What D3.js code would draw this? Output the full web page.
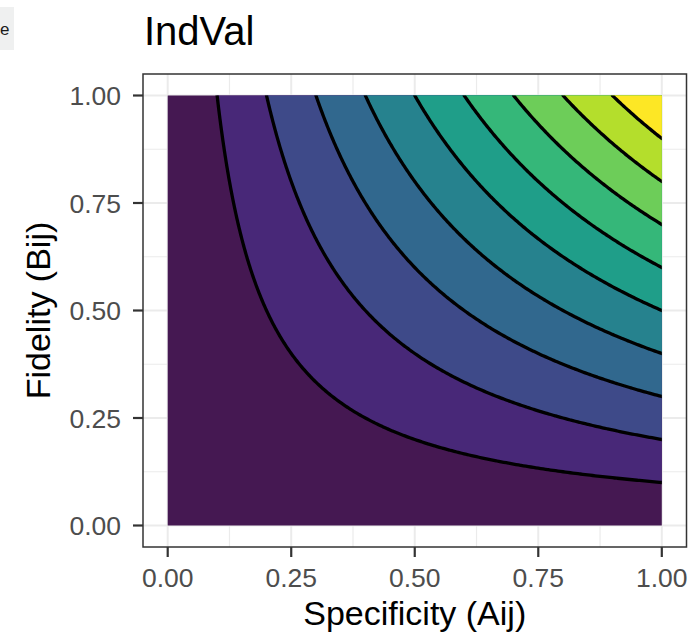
<!DOCTYPE html>
<html><head><meta charset="utf-8">
<script src="https://cdn.jsdelivr.net/npm/d3@7"></script>
<style>body{margin:0;background:#fff}svg{display:block}</style>
</head><body>
<svg id="c" width="692" height="639"></svg>
<script>
const title = "IndVal";
const xLabel = "Specificity (Aij)";
const yLabel = "Fidelity (Bij)";
const stripText = "e";
const bandBreaks = [0, 0.1, 0.2, 0.3, 0.4, 0.5, 0.6, 0.7, 0.8, 0.9];
const lineLevels = [0.1, 0.2, 0.3, 0.4, 0.5, 0.6, 0.7, 0.8, 0.9];
const bandColors = ["#451852","#482878","#3E4A89","#31688E","#26828E","#1F9E89","#35B779","#6DCD59","#B4DE2C","#FDE725"];
const xTicks = [0, 0.25, 0.5, 0.75, 1];
const yTicks = [0, 0.25, 0.5, 0.75, 1];
const minorTicks = [0.125, 0.375, 0.625, 0.875];
// grid of sampled specificity / fidelity values; IndVal = A * B
const specificity = d3.range(0, 201).map(i => i / 200);
const fidelity = d3.range(0, 201).map(i => i / 200);

const svg = d3.select("#c");
const P = {l: 143, r: 686.5, t: 74, b: 547};
const padX = (P.r - P.l) * 0.05 / 1.1, padY = (P.b - P.t) * 0.05 / 1.1;
const x = d3.scaleLinear().domain([0, 1]).range([P.l + padX, P.r - padX]);
const y = d3.scaleLinear().domain([0, 1]).range([P.b - padY, P.t + padY]);

// panel background + grid
svg.append("rect").attr("x", P.l).attr("y", P.t).attr("width", P.r - P.l).attr("height", P.b - P.t).attr("fill", "#fff");
const g = svg.append("g");
minorTicks.forEach(v => {
  g.append("line").attr("x1", x(v)).attr("x2", x(v)).attr("y1", P.t).attr("y2", P.b).attr("stroke", "#ebebeb").attr("stroke-width", 1.2);
  g.append("line").attr("y1", y(v)).attr("y2", y(v)).attr("x1", P.l).attr("x2", P.r).attr("stroke", "#ebebeb").attr("stroke-width", 1.2);
});
xTicks.forEach(v => g.append("line").attr("x1", x(v)).attr("x2", x(v)).attr("y1", P.t).attr("y2", P.b).attr("stroke", "#ebebeb").attr("stroke-width", 2));
yTicks.forEach(v => g.append("line").attr("y1", y(v)).attr("y2", y(v)).attr("x1", P.l).attr("x2", P.r).attr("stroke", "#ebebeb").attr("stroke-width", 2));

// contours
const n = specificity.length, m = fidelity.length;
const values = new Array(n * m);
for (let j = 0; j < m; j++) for (let i = 0; i < n; i++) values[j * n + i] = specificity[i] * fidelity[j];
const cx = c => x((c - 0.5) / (n - 1));
const cy = c => y((c - 0.5) / (m - 1));
const proj = d3.geoTransform({point: function(px, py) { this.stream.point(cx(px), cy(py)); }});
const path = d3.geoPath(proj);

svg.append("clipPath").attr("id", "clip").append("rect")
  .attr("x", x(0)).attr("y", y(1)).attr("width", x(1) - x(0)).attr("height", y(0) - y(1));
const plot = svg.append("g").attr("clip-path", "url(#clip)");

const bands = d3.contours().size([n, m]).thresholds(bandBreaks)(values);
plot.selectAll("path.band").data(bands).join("path").attr("class", "band")
  .attr("d", path).attr("fill", (d, i) => bandColors[i]).attr("stroke", "none");

const lines = d3.contours().size([n, m]).thresholds(lineLevels)(values);
const onB = p => p[0] <= 0 || p[0] >= n || p[1] <= 0 || p[1] >= m;
const lineGen = d3.line().x(p => cx(p[0])).y(p => cy(p[1]));
lines.forEach(ct => {
  ct.coordinates.forEach(poly => poly.forEach(ring => {
    let seg = [];
    const segs = [];
    for (let k = 0; k < ring.length - 1; k++) {
      const a = ring[k], b = ring[k + 1];
      if (onB(a) && onB(b)) { if (seg.length) { segs.push(seg); seg = []; } continue; }
      if (!seg.length) seg.push(a);
      seg.push(b);
    }
    if (seg.length) segs.push(seg);
    segs.forEach(s => plot.append("path").attr("d", lineGen(s)).attr("fill", "none")
      .attr("stroke", "#000").attr("stroke-width", 3.3).attr("stroke-linejoin", "round"));
  }));
});

// border
svg.append("rect").attr("x", P.l).attr("y", P.t).attr("width", P.r - P.l).attr("height", P.b - P.t)
  .attr("fill", "none").attr("stroke", "#333").attr("stroke-width", 1.5);

// ticks
const font = "'Liberation Sans', Arial, Helvetica, sans-serif";
xTicks.forEach(v => {
  svg.append("line").attr("x1", x(v)).attr("x2", x(v)).attr("y1", P.b).attr("y2", P.b + 10).attr("stroke", "#333").attr("stroke-width", 2.2);
  svg.append("text").attr("x", x(v)).attr("y", 587).attr("text-anchor", "middle").attr("font-family", font)
    .attr("font-size", 26.5).attr("fill", "#4d4d4d").text(d3.format(".2f")(v));
});
yTicks.forEach(v => {
  svg.append("line").attr("x1", P.l - 10).attr("x2", P.l).attr("y1", y(v)).attr("y2", y(v)).attr("stroke", "#333").attr("stroke-width", 2.2);
  svg.append("text").attr("x", 121).attr("y", y(v)).attr("dy", "0.36em").attr("text-anchor", "end").attr("font-family", font)
    .attr("font-size", 26.5).attr("fill", "#4d4d4d").text(d3.format(".2f")(v));
});

// labels
svg.append("text").attr("x", (x(0) + x(1)) / 2).attr("y", 625).attr("text-anchor", "middle").attr("font-family", font)
  .attr("font-size", 34).attr("fill", "#000").text(xLabel);
svg.append("text").attr("transform", `translate(50,${(y(0) + y(1)) / 2}) rotate(-90)`).attr("text-anchor", "middle")
  .attr("font-family", font).attr("font-size", 34).attr("fill", "#000").text(yLabel);
svg.append("text").attr("x", 144).attr("y", 45).attr("font-family", font).attr("font-size", 40).attr("fill", "#000").text(title);

// strip at top-left (only its last letter is visible)
svg.append("rect").attr("x", -20).attr("y", 7).attr("width", 34).attr("height", 43).attr("fill", "#eff0f0");
svg.append("text").attr("x", 0).attr("y", 35).attr("text-anchor", "start").attr("font-family", font)
  .attr("font-size", 17).attr("fill", "#1a1a1a").text(stripText);
</script>
</body></html>
